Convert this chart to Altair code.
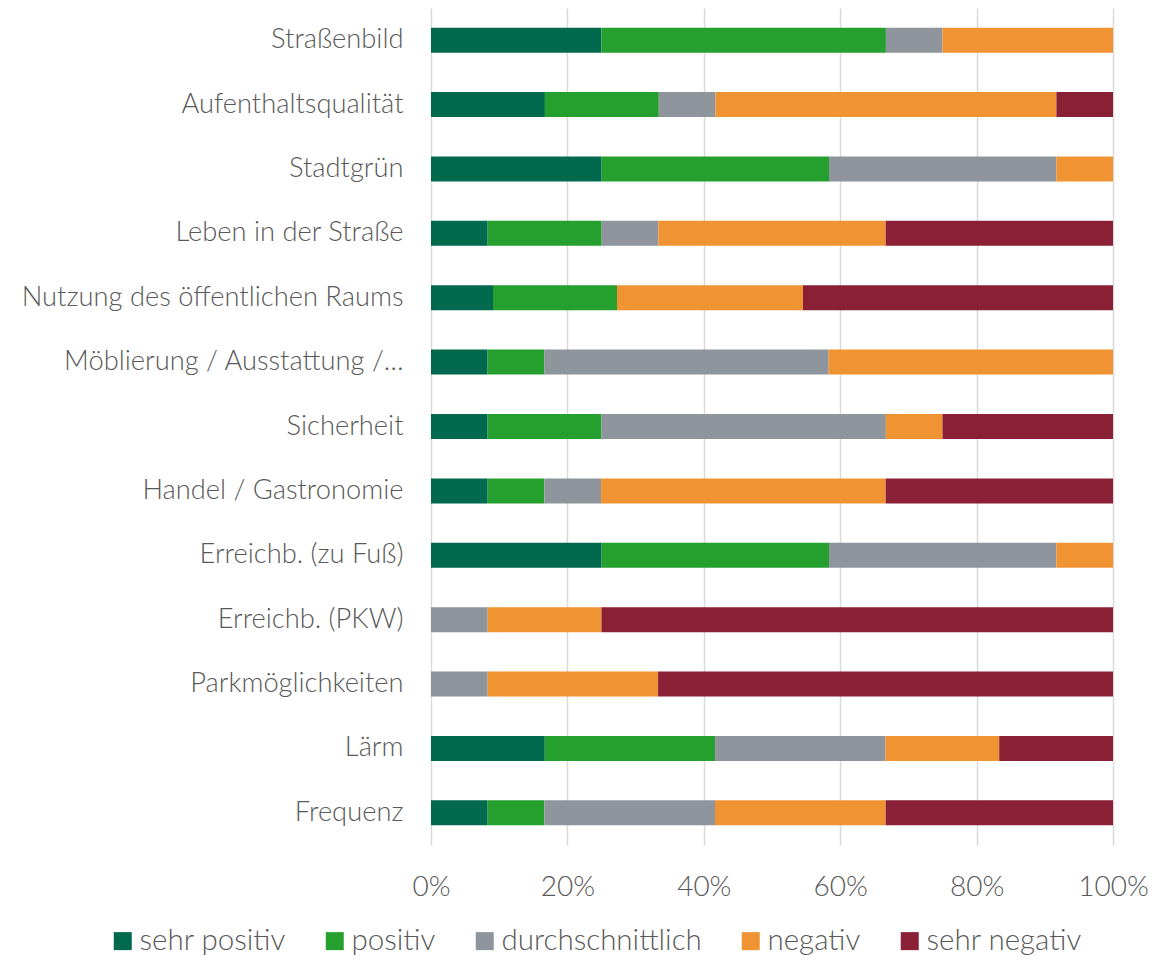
import altair as alt
import pandas as pd

categories = ["Straßenbild", "Aufenthaltsqualität", "Stadtgrün", "Leben in der Straße",
              "Nutzung des öffentlichen Raums", "Möblierung / Ausstattung /…", "Sicherheit",
              "Handel / Gastronomie", "Erreichb. (zu Fuß)", "Erreichb. (PKW)",
              "Parkmöglichkeiten", "Lärm", "Frequenz"]
series = ["sehr positiv", "positiv", "durchschnittlich", "negativ", "sehr negativ"]
colors = ["#00694E", "#25A02E", "#8E959C", "#F09433", "#8A2036"]

sehr_positiv = [25.0, 16.7, 25.0, 8.3, 9.1, 8.3, 8.3, 8.3, 25.0, 0.0, 0.0, 16.7, 8.3]
positiv = [41.7, 16.7, 33.3, 16.7, 18.2, 8.3, 16.7, 8.3, 33.3, 0.0, 0.0, 25.0, 8.3]
durchschnittlich = [8.3, 8.3, 33.3, 8.3, 0.0, 41.7, 41.7, 8.3, 33.3, 8.3, 8.3, 25.0, 25.0]
negativ = [25.0, 50.0, 8.3, 33.3, 27.3, 41.7, 8.3, 41.7, 8.3, 16.7, 25.0, 16.7, 25.0]
sehr_negativ = [0.0, 8.3, 0.0, 33.3, 45.5, 0.0, 25.0, 33.3, 0.0, 75.0, 66.7, 16.7, 33.3]

values = [sehr_positiv, positiv, durchschnittlich, negativ, sehr_negativ]
rows = []
for si, (s, vals) in enumerate(zip(series, values)):
    for c, v in zip(categories, vals):
        rows.append({"Kategorie": c, "Bewertung": s, "Wert": v, "ord": si})
df = pd.DataFrame(rows)

FONT = "Lato"
TXT = "#595959"

chart = alt.Chart(df).mark_bar(size=25).encode(
    y=alt.Y("Kategorie:N", sort=categories, title=None,
            scale=alt.Scale(paddingInner=0.61, paddingOuter=0.305),
            axis=alt.Axis(ticks=False, domain=False, grid=False, labelPadding=28,
                          labelFontSize=27.3, labelColor=TXT, labelFont=FONT,
                          labelFontWeight=300, labelLimit=500)),
    x=alt.X("Wert:Q", stack="normalize", title=None,
            scale=alt.Scale(domain=[0, 1], nice=False),
            axis=alt.Axis(format=".0%", values=[0, 0.2, 0.4, 0.6, 0.8, 1.0],
                          ticks=False, domain=False, grid=True, gridColor="#D9D9D9",
                          gridWidth=1.5, labelPadding=28, labelFontSize=28,
                          labelFlush=False,
                          labelColor=TXT, labelFont=FONT, labelFontWeight=300)),
    color=alt.Color("Bewertung:N", sort=series, title=None,
                    scale=alt.Scale(domain=series, range=colors),
                    legend=alt.Legend(orient="none", direction="horizontal", columns=5,
                                      legendX=-323, legendY=918, symbolType="square",
                                      symbolSize=324, symbolStrokeWidth=0,
                                      labelFontSize=29.5, labelColor=TXT, labelFont=FONT,
                                      labelFontWeight=300, labelOffset=2,
                                      columnPadding=34, labelLimit=400)),
    order=alt.Order("ord:Q", sort="ascending"),
).properties(
    width=682, height=837,
    autosize=alt.AutoSizeParams(type="none"),
    padding={"left": 423, "top": 0, "right": 50, "bottom": 111},
).configure_view(stroke=None)

chart.save("out.html", embed_options={"renderer": "svg", "actions": False})
